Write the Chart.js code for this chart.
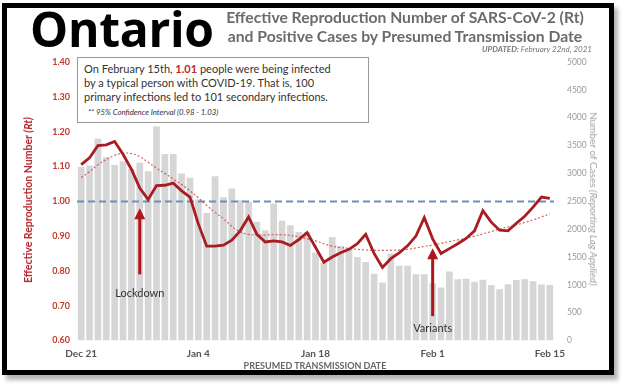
<!DOCTYPE html>
<html>
<head>
<meta charset="utf-8">
<script src="https://cdn.jsdelivr.net/npm/chart.js@4.4.1/dist/chart.umd.min.js"></script>
<style>
  html, body { margin:0; padding:0; background:#fff; }
  body { width:624px; height:386px; overflow:hidden; position:relative; font-family:'Lato', 'Open Sans', sans-serif; }
  #frame { position:absolute; left:2px; top:3px; width:602px; height:362px; border:5px solid #000; box-shadow:4px 5px 4px #b5b5b5; background:#fff; }
  #c { position:absolute; left:0; top:0; }
  .t { position:absolute; white-space:nowrap; }
</style>
</head>
<body>
<div id="frame"></div>
<canvas id="c" width="624" height="386"></canvas>

<div class="t" style="left:30px; top:5px; font:700 48px/48px 'Open Sans'; color:#000; letter-spacing:-0.3px;">Ontario</div>
<div class="t" style="left:210px; top:8px; width:390px; text-align:center; font:700 15.7px/19px 'Lato'; color:#6b6b6b;">Effective Reproduction Number of SARS-CoV-2 (Rt)<br>and Positive Cases by Presumed Transmission Date</div>
<div class="t" style="left:420px; top:45px; width:172px; text-align:right; font:italic 8px/8px 'Lato'; color:#777;"><b>UPDATED:</b> February 22nd, 2021</div>

<div class="t" style="left:77px; top:57px; width:292px; height:66px; box-sizing:border-box; border:1px solid #9a9a9a; background:#fff; padding:4px 0 0 6px; font:11px/14px 'Lato'; color:#333;">
On February 15th, <b style="color:#c0282d">1.01</b> people were being infected<br>
by a typical person with COVID-19. That is, 100<br>
primary infections led to 101 secondary infections.<br>
<span style="display:inline-block; margin:3px 0 0 4px; font:italic 7.8px/9px 'Lato';">** 95% Confidence Interval (0.98 - 1.03)</span>
</div>

<div class="t" style="left:28px; top:200px; transform:translate(-50%,-50%) rotate(-90deg); font:700 10.5px 'Lato'; color:#b5262b;">Effective Reproduction Number <i>(Rt)</i></div>
<div class="t" style="left:594px; top:199px; transform:translate(-50%,-50%) rotate(90deg); font:10px/10px 'Lato'; color:#a0a0a0;">Number of Cases <i>(Reporting Lag Applied)</i></div>
<div class="t" style="left:315px; top:365px; transform:translate(-50%,-50%); font:700 9px 'Lato'; color:#666;">PRESUMED TRANSMISSION DATE</div>

<script>
// ---- Data ----
const DATES = [
  'Dec 21','Dec 22','Dec 23','Dec 24','Dec 25','Dec 26','Dec 27','Dec 28','Dec 29','Dec 30','Dec 31',
  'Jan 1','Jan 2','Jan 3','Jan 4','Jan 5','Jan 6','Jan 7','Jan 8','Jan 9','Jan 10','Jan 11','Jan 12',
  'Jan 13','Jan 14','Jan 15','Jan 16','Jan 17','Jan 18','Jan 19','Jan 20','Jan 21','Jan 22','Jan 23',
  'Jan 24','Jan 25','Jan 26','Jan 27','Jan 28','Jan 29','Jan 30','Jan 31',
  'Feb 1','Feb 2','Feb 3','Feb 4','Feb 5','Feb 6','Feb 7','Feb 8','Feb 9','Feb 10','Feb 11','Feb 12',
  'Feb 13','Feb 14','Feb 15'
];
const CASES = [
  3120,3140,3620,3290,3150,3220,3080,3190,3040,3840,3350,
  3350,3000,2920,2530,2290,2950,2570,2730,2520,2490,2130,1980,
  2460,2150,2070,1950,1950,1580,1390,1860,1690,1650,1500,
  1410,1200,1040,1560,1340,1340,1190,1190,
  1030,950,1240,1100,1110,1055,1090,995,920,1010,1085,1100,
  1065,1005,995
];
const RT = [
  1.105,1.125,1.160,1.162,1.172,1.135,1.092,1.038,1.005,1.045,1.046,
  1.052,1.030,1.012,0.935,0.871,0.871,0.874,0.888,0.915,0.955,0.905,0.883,
  0.886,0.883,0.873,0.890,0.910,0.868,0.825,0.840,0.852,0.862,0.878,
  0.905,0.850,0.810,0.835,0.852,0.872,0.900,0.953,
  0.892,0.850,0.864,0.878,0.893,0.915,0.973,0.940,0.917,0.915,0.937,0.957,
  0.983,1.012,1.008
];
const RT_TREND = [
  1.068,1.085,1.105,1.120,1.132,1.138,1.137,1.128,1.112,1.095,1.080,
  1.064,1.048,1.030,1.010,0.988,0.968,0.950,0.928,0.912,0.905,0.903,0.903,
  0.904,0.904,0.902,0.898,0.892,0.886,0.878,0.871,0.867,0.865,0.862,
  0.860,0.859,0.859,0.859,0.860,0.862,0.866,0.870,
  0.874,0.879,0.884,0.889,0.894,0.900,0.906,0.913,0.920,0.926,0.932,0.939,
  0.946,0.955,0.964
];
const X_TICK_LABELS = ['Dec 21','Jan 4','Jan 18','Feb 1','Feb 15'];
const RT_REFERENCE = 1.0;
const EVENTS = [
  { date:'Dec 28', from:0.79, to:0.98, labelAt:0.736, label:'Lockdown' },
  { date:'Feb 1',  from:0.67, to:0.865, labelAt:0.636, label:'Variants' }
];

// ---- Styles ----
const RED = '#a81c22';

const overlay = {
  id:'overlay',
  afterDatasetDraw(chart, args) {
    if (args.index !== 0) return;
    const {ctx, chartArea, scales} = chart;
    const y = Math.round(scales.y.getPixelForValue(RT_REFERENCE)) + 0.5;
    ctx.save();
    ctx.strokeStyle = '#6f8fb6';
    ctx.lineWidth = 2;
    ctx.setLineDash([7,4]);
    ctx.beginPath();
    ctx.moveTo(chartArea.left, y);
    ctx.lineTo(chartArea.right, y);
    ctx.stroke();
    ctx.restore();
  },
  afterDatasetsDraw(chart) {
    const {ctx, scales} = chart;
    ctx.save();
    EVENTS.forEach(ev => {
      const x = scales.x.getPixelForValue(DATES.indexOf(ev.date));
      const yTip = scales.y.getPixelForValue(ev.to);
      const yTail = scales.y.getPixelForValue(ev.from);
      ctx.strokeStyle = '#b0141c';
      ctx.fillStyle = '#b0141c';
      ctx.lineWidth = 3;
      ctx.beginPath();
      ctx.moveTo(x, yTail);
      ctx.lineTo(x, yTip + 8);
      ctx.stroke();
      ctx.beginPath();
      ctx.moveTo(x, yTip);
      ctx.lineTo(x - 5.5, yTip + 11);
      ctx.lineTo(x + 5.5, yTip + 11);
      ctx.closePath();
      ctx.fill();
      ctx.fillStyle = '#333';
      ctx.font = '11px Lato';
      ctx.textAlign = 'center';
      ctx.textBaseline = 'middle';
      ctx.fillText(ev.label, x, scales.y.getPixelForValue(ev.labelAt));
    });
    ctx.restore();
  }
};

new Chart(document.getElementById('c'), {
  type:'bar',
  data:{
    labels: DATES,
    datasets:[
      { type:'bar', label:'Cases', data:CASES, yAxisID:'y1', backgroundColor:'#d6d6d6',
        categoryPercentage:1, barPercentage:0.8, order:3 },
      { type:'line', label:'Rt trend', data:RT_TREND, yAxisID:'y', borderColor:'rgba(205,70,70,0.85)',
        borderWidth:1.2, borderDash:[2,2], pointRadius:0, tension:0.4, order:2 },
      { type:'line', label:'Rt', data:RT, yAxisID:'y', borderColor:RED, borderWidth:2.8,
        pointRadius:0, tension:0, order:1 }
    ]
  },
  options:{
    responsive:false, animation:false, devicePixelRatio:1,
    layout:{ padding:{ top:62, left:0, right:0, bottom:0 } },
    plugins:{ legend:{display:false}, tooltip:{enabled:false} },
    scales:{
      x:{
        grid:{display:false, drawTicks:false}, border:{display:false},
        ticks:{ autoSkip:false, maxRotation:0, padding:7, color:'#555',
          font:{family:'Lato', size:10, weight:'bold'},
          callback:(v,i) => X_TICK_LABELS.includes(DATES[i]) ? DATES[i] : '' },
        afterFit:(s) => { s.height = 45.5; }
      },
      y:{
        position:'left', min:0.6, max:1.4,
        grid:{display:false, drawTicks:false}, border:{display:false},
        ticks:{ stepSize:0.1, padding:7, color:'#c0392b', font:{family:'Lato', size:9, weight:'bold'},
          callback:(v) => v.toFixed(2) },
        afterFit:(s) => { s.width = 77; }
      },
      y1:{
        position:'right', min:0, max:5000,
        grid:{display:false, drawTicks:false}, border:{display:false},
        ticks:{ stepSize:500, padding:13, color:'#9a9a9a', font:{family:'Lato', size:8.5},
          callback:(v) => String(v) },
        afterFit:(s) => { s.width = 70; }
      }
    }
  },
  plugins:[overlay]
});
</script>
</body>
</html>
